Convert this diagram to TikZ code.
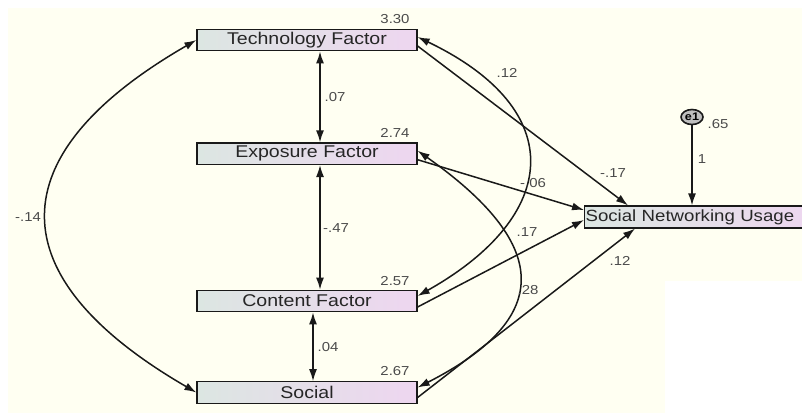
\documentclass[tikz,border=0pt]{standalone}
\usepackage{xcolor}
\usepackage{fontspec}
\usepackage{tikz}
\usetikzlibrary{shapes,arrows,positioning,calc,arrows.meta}
\newfontfamily\semfont[FakeStretch=1.15]{Liberation Sans}
\definecolor{cream}{RGB}{255,255,242}
\definecolor{boxleft}{RGB}{220,230,226}
\definecolor{boxright}{RGB}{238,214,240}
\definecolor{linec}{RGB}{25,25,25}
\definecolor{numc}{RGB}{75,75,75}

\begin{document}
\begin{tikzpicture}[x=1pt, y=-1pt,
    var/.style={draw=linec, line width=1.2pt, left color=boxleft, right color=boxright,
        minimum width=220pt, minimum height=21.5pt, inner sep=0pt, text=black!85,
        font=\semfont\fontsize{17}{18}\selectfont},
    num/.style={text=numc, inner sep=1pt, font=\semfont\fontsize{13}{14}\selectfont},
    path/.style={draw=linec, line width=1.5pt, -{Latex[length=12pt,width=8pt]}},
    cov/.style={draw=linec, line width=1.5pt, {Latex[length=12pt,width=8pt]}-{Latex[length=12pt,width=8pt]}}]
    \useasboundingbox (0,0) rectangle (802,413);
    \clip (0,0) rectangle (802,413);

    % Background
    \fill[white] (0,0) rectangle (802,413);
    \fill[cream] (8,8) rectangle (802,413);
    \fill[white] (665,281) rectangle (802,413);

    % Observed variables
    \node[var] (tech) at (307,40) {Technology Factor};
    \node[var] (expo) at (307,153.7) {Exposure Factor};
    \node[var] (cont) at (307,301) {Content Factor};
    \node[var] (soc) at (307,392.5) {Social};
    \node[var, anchor=west, minimum width=236pt, minimum height=22pt, text width=234pt, align=left,
        font=\semfont\fontsize{16.2}{18}\selectfont] (snu) at (584,217) {Social Networking Usage};
    \node[draw=linec, line width=1.6pt, fill=black!25, ellipse, minimum width=22pt, minimum height=15pt, inner sep=0pt,
        font=\semfont\bfseries\fontsize{11}{12}\selectfont] (e1) at (692,117) {e1};

    % Means
    \node[num] at (395,19) {3.30};
    \node[num] at (395,133) {2.74};
    \node[num] at (395,281) {2.57};
    \node[num] at (395,371) {2.67};
    \node[num] at (718,124) {.65};

    % Covariances
    \draw[cov] ([xshift=13pt]tech.south) -- ([xshift=13pt]expo.north);
    \draw[cov] ([xshift=13pt]expo.south) -- ([xshift=13pt]cont.north);
    \draw[cov] ([xshift=6pt]cont.south) -- ([xshift=6pt]soc.north);
    \draw[cov] (tech.west) .. controls (-3,155) and (-3,277) .. (soc.west);
    \draw[cov] ([yshift=3pt]tech.east) .. controls (570,110) and (560,216) .. ([yshift=5pt]cont.east);
    \draw[cov] ([yshift=3pt]expo.east) .. controls (547,242) and (558,316) .. ([yshift=5pt]soc.east);

    \node[num] at (335,97) {.07};
    \node[num] at (336,228) {-.47};
    \node[num] at (328,347) {.04};
    \node[num] at (28,217) {-.14};
    \node[num] at (507,73) {.12};
    \node[num] at (528,290) {.28};

    % Regression paths
    \draw[path] ([yshift=-6pt]tech.east) -- ([xshift=44pt]snu.north west);
    \draw[path] ([yshift=-6pt]expo.east) -- ([yshift=7pt]snu.west);
    \draw[path] ([yshift=-6pt]cont.east) -- ([yshift=-3pt]snu.west);
    \draw[path] ([yshift=-5pt]soc.east) -- ([xshift=51pt]snu.south west);
    \draw[path] (e1.south) -- (e1.south |- snu.north);

    \node[num] at (613,173) {-.17};
    \node[num] at (533,183) {-.06};
    \node[num] at (527,232) {.17};
    \node[num] at (620,261) {.12};
    \node[num] at (702,159) {1};
\end{tikzpicture}
\end{document}
